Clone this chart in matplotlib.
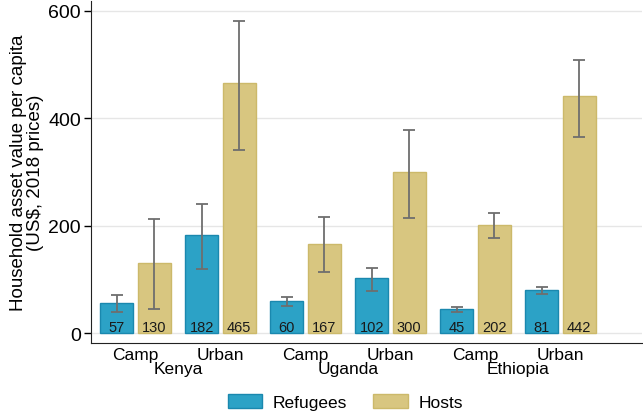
import matplotlib
matplotlib.use("Agg")
import matplotlib.pyplot as plt
import matplotlib.transforms as mtransforms
from matplotlib.patches import Patch
import numpy as np

plt.rcParams['font.family'] = ['Liberation Sans', 'DejaVu Sans']

# data
countries = ['Kenya', 'Uganda', 'Ethiopia']
settings = ['Camp', 'Urban', 'Camp', 'Urban', 'Camp', 'Urban']
refugees = [57, 182, 60, 102, 45, 81]
refugees_lo = [40, 119, 50, 78, 40, 73]
refugees_hi = [72, 240, 68, 122, 48, 86]
hosts = [130, 465, 167, 300, 202, 442]
hosts_lo = [46, 341, 114, 215, 177, 366]
hosts_hi = [212, 581, 216, 379, 224, 509]

blue = '#2ca2c6'
blue_edge = '#1a88ae'
gold = '#d8c680'
gold_edge = '#ccb96a'
err_col = '#6e6e6e'

fig = plt.figure(figsize=(6.43, 4.14), dpi=100)
ax = fig.add_axes([90.7 / 643, 1 - 344.3 / 414, (642 - 90.7) / 643, (344.3 - 2) / 414])

x = np.arange(len(settings))
off = 0.22
w = 0.39

ax.grid(axis='y', color='#e6e6e6', linewidth=1.0, zorder=0)
ax.set_axisbelow(True)

ax.bar(x - off, refugees, w, color=blue, edgecolor=blue_edge, linewidth=1.0, zorder=2)
ax.bar(x + off, hosts, w, color=gold, edgecolor=gold_edge, linewidth=1.0, zorder=2)

r = np.array(refugees)
h = np.array(hosts)
ax.errorbar(x - off, r, yerr=[r - np.array(refugees_lo), np.array(refugees_hi) - r],
            fmt='none', ecolor=err_col, elinewidth=1.3, capsize=4, capthick=1.3, zorder=3)
ax.errorbar(x + off, h, yerr=[h - np.array(hosts_lo), np.array(hosts_hi) - h],
            fmt='none', ecolor=err_col, elinewidth=1.3, capsize=4, capthick=1.3, zorder=3)

for xi, v in zip(x - off, refugees):
    ax.text(xi, 5, str(v), ha='center', va='baseline', fontsize=10.5, color='#1a1a1a', zorder=4)
for xi, v in zip(x + off, hosts):
    ax.text(xi, 5, str(v), ha='center', va='baseline', fontsize=10.5, color='#1a1a1a', zorder=4)

ax.set_xlim(-0.527, 5.959)
ax.set_ylim(-18.6, 618)
ax.set_yticks([0, 200, 400, 600])
ax.tick_params(axis='y', labelsize=14, length=5, width=1, pad=2)
ax.set_xticks(x)
ax.set_xticklabels(settings)
ax.tick_params(axis='x', labelsize=12.5, length=0, pad=3)

trans = mtransforms.blended_transform_factory(ax.transData, ax.transAxes)
for i, c in enumerate(countries):
    ax.text(2 * i + 0.5, -0.052, c, transform=trans, ha='center', va='top', fontsize=12.5)

for s in ['top', 'right']:
    ax.spines[s].set_visible(False)
ax.spines['left'].set_color('#222222')
ax.spines['bottom'].set_color('#222222')

ax.set_ylabel('Household asset value per capita\n(US$, 2018 prices)', fontsize=13.5, labelpad=3,
              linespacing=1.0)

handles = [Patch(facecolor=blue, edgecolor=blue_edge, label='Refugees'),
           Patch(facecolor=gold, edgecolor=gold_edge, label='Hosts')]
fig.legend(handles=handles, loc='center', bbox_to_anchor=(0.537, 0.027), ncol=2,
           frameon=False, fontsize=12.5, handlelength=2.0, handleheight=0.9,
           handletextpad=0.6, columnspacing=1.5)

fig.savefig('out.png', dpi=100)
